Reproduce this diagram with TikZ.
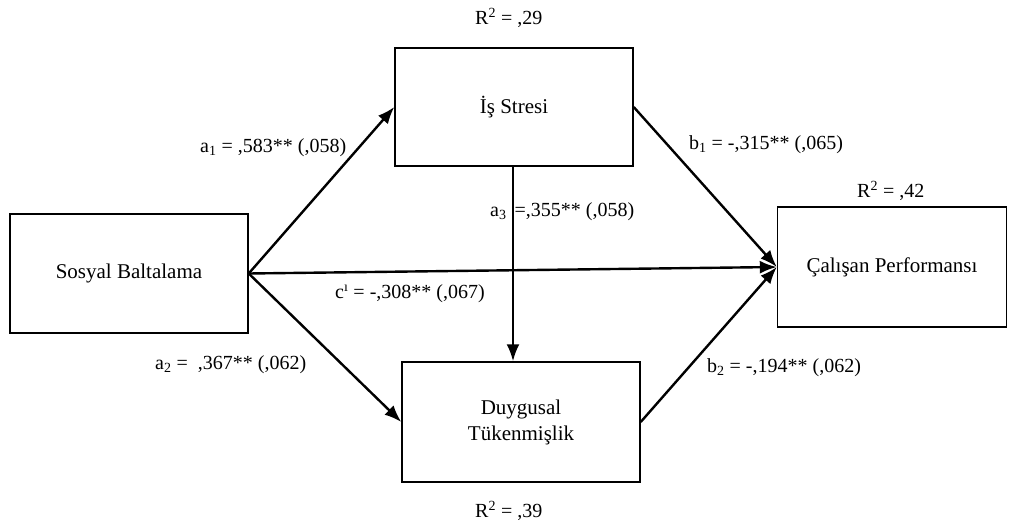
\documentclass[tikz,border=0pt]{standalone}
\usepackage{fontspec}
\setmainfont{Liberation Serif}
\usetikzlibrary{arrows.meta}
\begin{document}
\begin{tikzpicture}[x=1pt,y=-1pt,
  box/.style={draw,line width=1.4pt,inner sep=0pt,align=center,font=\fontsize{21}{26}\selectfont},
  lbl/.style={inner sep=0pt,anchor=west,font=\fontsize{20}{24}\selectfont},
  path/.style={line width=2.4pt,-{Latex[length=17pt,width=13pt]}}]
\useasboundingbox (0,0) rectangle (1009,527);
\node[box,minimum width=238pt,minimum height=119pt] (sb) at (129,273.5) {Sosyal Baltalama};
\node[box,minimum width=238pt,minimum height=118pt] (is) at (514,107) {İş Stresi};
\node[box,minimum width=238pt,minimum height=120pt] (du) at (521,422) {Duygusal\\Tükenmişlik};
\node[box,minimum width=229pt,minimum height=120pt] (cp) at (892,267) {Çalışan Performansı};
\draw[path] (sb.east) -- (is.west);
\draw[path] (sb.east) -- (du.west);
\draw[path] (sb.east) -- (cp.west);
\draw[path] (is.east) -- (cp.west);
\draw[path] (du.east) -- (cp.west);
\draw[path] ([xshift=-1pt]is.south) -- ([xshift=-1pt]is.south |- du.north);
\node[lbl] (r1) at (475,18) {R\textsuperscript{2} = ,29};
\node[lbl] (r2) at (857,191) {R\textsuperscript{2} = ,42};
\node[lbl] (r3) at (475,511) {R\textsuperscript{2} = ,39};
\node[lbl] (la1) at (200,148) {a\textsubscript{1} = ,583** (,058)};
\node[lbl] (lb1) at (689,145) {b\textsubscript{1} = -,315** (,065)};
\node[lbl] (la3) at (490,212) {a\textsubscript{3}\hspace{8pt}=,355** (,058)};
\node[lbl] (lc) at (335,294) {c\textsuperscript{ı} = -,308** (,067)};
\node[lbl] (la2) at (155,365) {a\textsubscript{2} =\ \ ,367** (,062)};
\node[lbl] (lb2) at (707,368) {b\textsubscript{2} = -,194** (,062)};
\end{tikzpicture}
\end{document}
